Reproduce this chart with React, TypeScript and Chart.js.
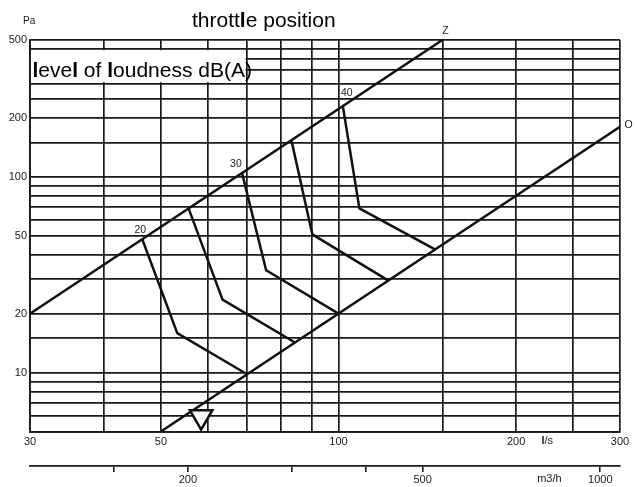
import React, { useEffect, useRef } from "react";
import { Chart, registerables } from "chart.js";

Chart.register(...registerables);

// Axis ticks (l/s, Pa, m3/h)
const flowTicks = [30, 40, 50, 60, 70, 80, 90, 100, 150, 200, 250, 300];
const flowLabels = [30, 50, 100, 200, 300];
const pressureTicks = [5, 6, 7, 8, 9, 10, 15, 20, 30, 40, 50, 60, 70, 80, 90, 100, 150, 200, 250, 300, 350, 400, 450, 500];
const pressureLabels = [10, 20, 50, 100, 200, 500];
const m3hTicks = [150, 200, 300, 400, 500, 1000];
const m3hLabels = [200, 500, 1000];

// Throttle position lines
const lineZ = [{ x: 30, y: 20 }, { x: 150, y: 500 }];
const lineO = [{ x: 50, y: 5 }, { x: 300, y: 180 }];

// Level of loudness curves dB(A)
const loud20 = [{ x: 46.5, y: 48 }, { x: 53.3, y: 15.9 }, { x: 70, y: 9.8 }];
const loud25 = [{ x: 55.7, y: 69 }, { x: 63.6, y: 23.6 }, { x: 84.5, y: 14.2 }];
const loud30 = [{ x: 68.6, y: 105 }, { x: 75.4, y: 33.3 }, { x: 100, y: 20 }];
const loud35 = [{ x: 83.2, y: 154 }, { x: 90.3, y: 50.8 }, { x: 121.5, y: 29.5 }];
const loud40 = [{ x: 101.7, y: 230 }, { x: 108.5, y: 69 }, { x: 146, y: 42.5 }];

const throttleMark = [{ x: 58.5, y: 5.95 }];

const NARROW = '"Liberation Sans", Arial, sans-serif';
const SANS = '"Liberation Sans", Arial, sans-serif';
const INK = "#1a1a1a";

function drawMixed(ctx: CanvasRenderingContext2D, text: string, x: number, y: number, size: number, family: string) {
  let cx = x;
  for (const ch of text) {
    ctx.font = (ch === "l" ? "bold " : "") + size + "px " + family;
    ctx.fillText(ch, cx, y);
    cx += ctx.measureText(ch).width;
  }
}

const textPlugin = {
  id: "textPlugin",
  beforeDatasetsDraw(chart: any) {
    const { ctx, scales, chartArea } = chart;
    const x = scales.x;
    const y = scales.y;
    ctx.save();
    const top = y.getPixelForValue(450) + 1.2;
    const bottom = y.getPixelForValue(300) - 1.2;
    const right = x.getPixelForValue(70) - 1.5;
    ctx.fillStyle = "#fff";
    ctx.fillRect(chartArea.left + 1, top, right - chartArea.left - 1, bottom - top);
    ctx.fillStyle = "#000";
    ctx.textBaseline = "alphabetic";
    ctx.textAlign = "left";
    drawMixed(ctx, "level of loudness dB(A)", chartArea.left + 2.5, 76.5, 21, SANS);
    ctx.restore();
  },
  afterDraw(chart: any) {
    const { ctx, scales } = chart;
    const x = scales.x;
    const y = scales.y;
    const x2 = scales.x2;
    ctx.save();
    ctx.fillStyle = "#000";
    ctx.textBaseline = "alphabetic";
    ctx.textAlign = "left";
    drawMixed(ctx, "throttle position", 192, 26.5, 21, SANS);

    ctx.fillStyle = INK;
    ctx.font = "10px " + NARROW;
    ctx.textAlign = "left";
    ctx.textBaseline = "middle";
    ctx.fillText("Pa", 23, 21);

    const lab = (t: string, p: { x: number; y: number }, dx: number, dy: number) => {
      ctx.textAlign = "center";
      ctx.textBaseline = "middle";
      ctx.font = "10.5px " + NARROW;
      ctx.fillText(t, x.getPixelForValue(p.x) + dx, y.getPixelForValue(p.y) + dy);
    };
    lab("20", loud20[0], -2, -9);
    lab("30", loud30[0], -6, -9);
    lab("40", loud40[0], 4, -13);
    lab("Z", lineZ[1], 3, -9);
    lab("O", lineO[1], 8.5, -2);

    ctx.textAlign = "left";
    ctx.textBaseline = "middle";
    drawMixed(ctx, "l/s", x.getPixelForValue(226) - 6, 441, 11, NARROW);
    ctx.font = "11px " + NARROW;
    ctx.textAlign = "center";
    ctx.fillText("m3/h", x2.getPixelForValue(820), 479);
    ctx.restore();
  },
};

export default function App() {
  const ref = useRef<HTMLCanvasElement | null>(null);

  useEffect(() => {
    if (!ref.current) return;
    const lineDs = (data: any[]) => ({
      data,
      borderColor: "#111",
      borderWidth: 2.5,
      pointRadius: 0,
      fill: false,
      tension: 0,
      xAxisID: "x",
      yAxisID: "y",
    });
    const chart = new Chart(ref.current, {
      type: "line",
      data: {
        datasets: [
          {
            data: throttleMark,
            showLine: false,
            pointStyle: "triangle",
            rotation: 180,
            pointRadius: 13,
            pointBackgroundColor: "#fff",
            pointBorderColor: "#111",
            pointBorderWidth: 2.5,
            xAxisID: "x",
            yAxisID: "y",
          } as any,
          lineDs(lineZ),
          lineDs(lineO),
          lineDs(loud20),
          lineDs(loud25),
          lineDs(loud30),
          lineDs(loud35),
          lineDs(loud40),
        ],
      },
      options: {
        animation: false,
        responsive: true,
        maintainAspectRatio: false,
        events: [],
        layout: { padding: { left: 0, right: 17, top: 40, bottom: 0 } },
        plugins: { legend: { display: false }, tooltip: { enabled: false }, title: { display: false } },
        scales: {
          x: {
            type: "logarithmic",
            position: "bottom",
            weight: 0,
            min: 30,
            max: 300,
            afterBuildTicks: (s: any) => {
              s.ticks = flowTicks.map((v) => ({ value: v }));
            },
            afterFit: (s: any) => {
              s.height = 34.5;
            },
            grid: { color: INK, lineWidth: 1.7, drawTicks: false },
            border: { display: true, color: INK, width: 1.8 },
            ticks: {
              autoSkip: false,
              maxRotation: 0,
              padding: 4,
              color: INK,
              font: { family: NARROW, size: 11 },
              callback: (v: any) => (flowLabels.includes(Number(v)) ? String(v) : ""),
            },
          },
          x2: {
            type: "logarithmic",
            position: "bottom",
            weight: 1,
            min: 108,
            max: 1080,
            afterBuildTicks: (s: any) => {
              s.ticks = m3hTicks.map((v) => ({ value: v }));
            },
            afterFit: (s: any) => {
              s.height = 21;
            },
            grid: { drawOnChartArea: false, drawTicks: true, tickLength: 6, color: INK, lineWidth: 1.6 },
            border: { display: true, color: INK, width: 1.8 },
            ticks: {
              autoSkip: false,
              maxRotation: 0,
              padding: 1,
              color: INK,
              font: { family: NARROW, size: 11 },
              callback: (v: any) => (m3hLabels.includes(Number(v)) ? String(v) : ""),
            },
          },
          y: {
            type: "logarithmic",
            position: "left",
            min: 5,
            max: 500,
            afterBuildTicks: (s: any) => {
              s.ticks = pressureTicks.map((v) => ({ value: v }));
            },
            afterFit: (s: any) => {
              s.width = 30;
            },
            grid: { color: INK, lineWidth: 1.7, drawTicks: false },
            border: { display: true, color: INK, width: 1.8 },
            ticks: {
              autoSkip: false,
              padding: 3,
              color: INK,
              font: { family: NARROW, size: 11 },
              callback: (v: any) => (pressureLabels.includes(Number(v)) ? String(v) : ""),
            },
          },
        },
      } as any,
      plugins: [textPlugin],
    });
    return () => chart.destroy();
  }, []);

  return (
    <div style={{ position: "fixed", left: 0, top: 0, width: 637, height: 487, background: "#fff" }}>
      <canvas ref={ref} />
    </div>
  );
}
